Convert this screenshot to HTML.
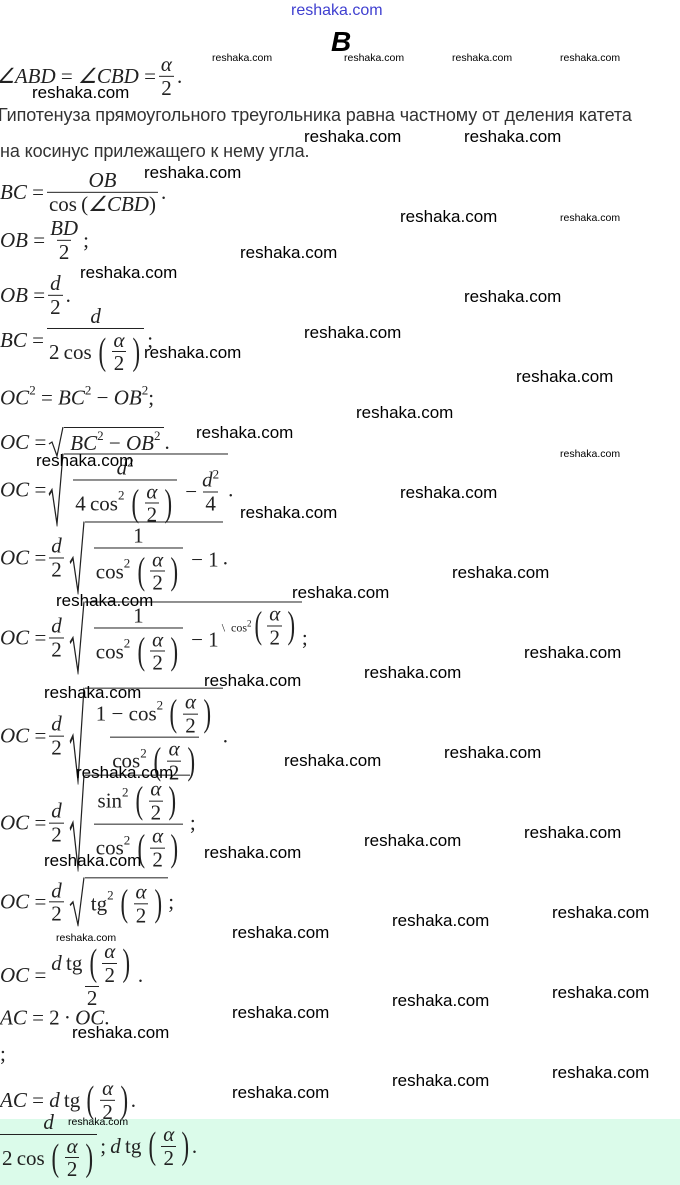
<!DOCTYPE html>
<html><head><meta charset="utf-8"><style>
html,body{margin:0;padding:0;background:#fff;}
body{width:680px;height:1185px;position:relative;overflow:hidden;font-family:"Liberation Serif",serif;color:#222;}
.band{position:absolute;left:0;top:1119px;width:680px;height:66px;background:#dbfbea;}
.m{position:absolute;left:0;white-space:nowrap;font-size:21px;display:flex;align-items:center;transform:translateY(-50%);}
.m i{font-style:italic;}
.f{display:inline-flex;flex-direction:column;align-items:center;vertical-align:middle;margin:0 3px;}
.f>span{display:block;padding:0 2px;line-height:1.08;}
.f>span+span{border-top:1px solid #222;}
.p{display:inline-flex;align-items:center;}
.p .b{font-size:38px;line-height:1;transform:scaleX(.6);display:inline-block;}
.sq{display:inline-flex;align-items:stretch;margin-left:2px;}
.sq svg{width:16px;display:block;}
.sq>.in{border-top:1px solid #222;display:flex;align-items:center;padding:2px 4px 0 6px;}
.w{position:absolute;font-family:"Liberation Sans",sans-serif;font-size:17px;color:#000;transform:translateY(-50%);white-space:nowrap;}
.ws{position:absolute;font-family:"Liberation Sans",sans-serif;font-size:10.5px;color:#000;transform:translateY(-50%);white-space:nowrap;}
.t{position:absolute;left:0;font-family:"Liberation Sans",sans-serif;font-size:18px;color:#333;white-space:nowrap;letter-spacing:-0.1px;}
sup{font-size:13px;position:relative;top:-8px;vertical-align:baseline;}
</style></head><body>
<div class="band"></div>
<div style="position:absolute;left:291px;top:2px;font-family:'Liberation Sans',sans-serif;font-size:16px;color:#4040d0;">reshaka.com</div>
<div style="position:absolute;left:331px;top:26px;font-family:'Liberation Sans',sans-serif;font-size:28px;font-weight:bold;font-style:italic;color:#000;">B</div>

<div class="m" style="top:76px;left:-4px"><i>∠ABD</i>&nbsp;=&nbsp;<i>∠CBD</i>&nbsp;=<span class="f"><span><i>α</i></span><span>2</span></span>.</div>
<div class="t" style="top:105px;left:-2px">Гипотенуза прямоугольного треугольника равна частному от деления катета</div>
<div class="t" style="top:141px">на косинус прилежащего к нему угла.</div>

<div class="m" style="top:192px"><i>BC</i>&nbsp;=<span class="f"><span><i>OB</i></span><span>cos&thinsp;(<i>∠CBD</i>)</span></span>.</div>
<div class="m" style="top:240px"><i>OB</i>&nbsp;=<span class="f"><span><i>BD</i></span><span>2</span></span>;</div>
<div class="m" style="top:295px"><i>OB</i>&nbsp;=<span class="f"><span><i>d</i></span><span>2</span></span>.</div>
<div class="m" style="top:340px"><i>BC</i>&nbsp;=<span class="f"><span><i>d</i></span><span style="display:flex;align-items:center">2&thinsp;cos&thinsp;<span class="p"><span class="b">(</span><span class="f"><span><i>α</i></span><span>2</span></span><span class="b">)</span></span></span></span>;</div>
<div class="m" style="top:398px"><i>OC</i><sup>2</sup>&nbsp;=&nbsp;<i>BC</i><sup>2</sup>&nbsp;−&nbsp;<i>OB</i><sup>2</sup>;</div>
<div class="m" style="top:442px"><i>OC</i>&nbsp;=<span class="sq"><svg viewBox="0 0 16 30" preserveAspectRatio="none"><polyline points="1,17 4,15 9,29 15,0" fill="none" stroke="#222" stroke-width="1.2"/></svg><span class="in"><i>BC</i><sup>2</sup>&nbsp;−&nbsp;<i>OB</i><sup>2</sup></span></span>.</div>

<div class="m" style="top:490px"><i>OC</i>&nbsp;=<span class="sq"><svg viewBox="0 0 16 30" preserveAspectRatio="none"><polyline points="1,17 4,15 9,29 15,0" fill="none" stroke="#222" stroke-width="1.2"/></svg><span class="in"><span class="f"><span><i>d</i><sup>2</sup></span><span style="display:flex;align-items:center">4&thinsp;cos<sup>2</sup>&thinsp;<span class="p"><span class="b">(</span><span class="f"><span><i>α</i></span><span>2</span></span><span class="b">)</span></span></span></span>&nbsp;−<span class="f"><span><i>d</i><sup>2</sup></span><span>4</span></span></span></span>.</div>

<div class="m" style="top:558px"><i>OC</i>&nbsp;=<span class="f"><span><i>d</i></span><span>2</span></span><span class="sq"><svg viewBox="0 0 16 30" preserveAspectRatio="none"><polyline points="1,17 4,15 9,29 15,0" fill="none" stroke="#222" stroke-width="1.2"/></svg><span class="in"><span class="f"><span>1</span><span style="display:flex;align-items:center">cos<sup>2</sup>&thinsp;<span class="p"><span class="b">(</span><span class="f"><span><i>α</i></span><span>2</span></span><span class="b">)</span></span></span></span>&nbsp;−&nbsp;1</span></span>.</div>

<div class="m" style="top:638px"><i>OC</i>&nbsp;=<span class="f"><span><i>d</i></span><span>2</span></span><span class="sq"><svg viewBox="0 0 16 30" preserveAspectRatio="none"><polyline points="1,17 4,15 9,29 15,0" fill="none" stroke="#222" stroke-width="1.2"/></svg><span class="in"><span class="f"><span>1</span><span style="display:flex;align-items:center">cos<sup>2</sup>&thinsp;<span class="p"><span class="b">(</span><span class="f"><span><i>α</i></span><span>2</span></span><span class="b">)</span></span></span></span>&nbsp;−&nbsp;1<span style="font-size:12px;position:relative;top:-12px">&nbsp;\ &nbsp;cos<sup style="font-size:9px;top:-5px">2</sup></span><span class="p" style="position:relative;top:-14px"><span class="b">(</span><span class="f"><span><i>α</i></span><span>2</span></span><span class="b">)</span></span></span></span>;</div>

<div class="m" style="top:736px"><i>OC</i>&nbsp;=<span class="f"><span><i>d</i></span><span>2</span></span><span class="sq"><svg viewBox="0 0 16 30" preserveAspectRatio="none"><polyline points="1,17 4,15 9,29 15,0" fill="none" stroke="#222" stroke-width="1.2"/></svg><span class="in"><span class="f"><span style="display:flex;align-items:center">1&nbsp;−&nbsp;cos<sup>2</sup>&thinsp;<span class="p"><span class="b">(</span><span class="f"><span><i>α</i></span><span>2</span></span><span class="b">)</span></span></span><span style="display:flex;align-items:center">cos<sup>2</sup>&thinsp;<span class="p"><span class="b">(</span><span class="f"><span><i>α</i></span><span>2</span></span><span class="b">)</span></span></span></span></span></span>.</div>

<div class="m" style="top:823px"><i>OC</i>&nbsp;=<span class="f"><span><i>d</i></span><span>2</span></span><span class="sq"><svg viewBox="0 0 16 30" preserveAspectRatio="none"><polyline points="1,17 4,15 9,29 15,0" fill="none" stroke="#222" stroke-width="1.2"/></svg><span class="in"><span class="f"><span style="display:flex;align-items:center">sin<sup>2</sup>&thinsp;<span class="p"><span class="b">(</span><span class="f"><span><i>α</i></span><span>2</span></span><span class="b">)</span></span></span><span style="display:flex;align-items:center">cos<sup>2</sup>&thinsp;<span class="p"><span class="b">(</span><span class="f"><span><i>α</i></span><span>2</span></span><span class="b">)</span></span></span></span></span></span>;</div>

<div class="m" style="top:902px"><i>OC</i>&nbsp;=<span class="f"><span><i>d</i></span><span>2</span></span><span class="sq"><svg viewBox="0 0 16 30" preserveAspectRatio="none"><polyline points="1,17 4,15 9,29 15,0" fill="none" stroke="#222" stroke-width="1.2"/></svg><span class="in">tg<sup>2</sup>&thinsp;<span class="p"><span class="b">(</span><span class="f"><span><i>α</i></span><span>2</span></span><span class="b">)</span></span></span></span>;</div>

<div class="m" style="top:975px"><i>OC</i>&nbsp;=<span class="f"><span style="display:flex;align-items:center"><i>d</i>&thinsp;tg&thinsp;<span class="p"><span class="b">(</span><span class="f"><span><i>α</i></span><span>2</span></span><span class="b">)</span></span></span><span>2</span></span>.</div>
<div class="m" style="top:1018px"><i>AC</i>&nbsp;=&nbsp;2&thinsp;·&thinsp;<i>OC</i>.</div>
<div class="m" style="top:1054px">;</div>
<div class="m" style="top:1100px"><i>AC</i>&nbsp;=&nbsp;<i>d</i>&thinsp;tg&thinsp;<span class="p"><span class="b">(</span><span class="f"><span><i>α</i></span><span>2</span></span><span class="b">)</span></span>.</div>
<div class="m" style="top:1146px"><span class="f" style="margin-left:0"><span><i>d</i></span><span style="display:flex;align-items:center">2&thinsp;cos&thinsp;<span class="p"><span class="b">(</span><span class="f"><span><i>α</i></span><span>2</span></span><span class="b">)</span></span></span></span>;&thinsp;<i>d</i>&thinsp;tg&thinsp;<span class="p"><span class="b">(</span><span class="f"><span><i>α</i></span><span>2</span></span><span class="b">)</span></span>.</div>

<div class="ws" style="left:212px;top:58px">reshaka.com</div>
<div class="ws" style="left:344px;top:58px">reshaka.com</div>
<div class="ws" style="left:452px;top:58px">reshaka.com</div>
<div class="ws" style="left:560px;top:58px">reshaka.com</div>
<div class="ws" style="left:560px;top:218px">reshaka.com</div>
<div class="ws" style="left:560px;top:454px">reshaka.com</div>
<div class="ws" style="left:56px;top:938px">reshaka.com</div>
<div class="ws" style="left:68px;top:1122px">reshaka.com</div>

<div class="w" style="left:32px;top:93px">reshaka.com</div>
<div class="w" style="left:304px;top:137px">reshaka.com</div>
<div class="w" style="left:464px;top:137px">reshaka.com</div>
<div class="w" style="left:144px;top:173px">reshaka.com</div>
<div class="w" style="left:400px;top:217px">reshaka.com</div>
<div class="w" style="left:240px;top:253px">reshaka.com</div>
<div class="w" style="left:80px;top:273px">reshaka.com</div>
<div class="w" style="left:464px;top:297px">reshaka.com</div>
<div class="w" style="left:304px;top:333px">reshaka.com</div>
<div class="w" style="left:144px;top:353px">reshaka.com</div>
<div class="w" style="left:516px;top:377px">reshaka.com</div>
<div class="w" style="left:356px;top:413px">reshaka.com</div>
<div class="w" style="left:196px;top:433px">reshaka.com</div>
<div class="w" style="left:36px;top:461px">reshaka.com</div>
<div class="w" style="left:400px;top:493px">reshaka.com</div>
<div class="w" style="left:240px;top:513px">reshaka.com</div>
<div class="w" style="left:452px;top:573px">reshaka.com</div>
<div class="w" style="left:292px;top:593px">reshaka.com</div>
<div class="w" style="left:56px;top:601px">reshaka.com</div>
<div class="w" style="left:524px;top:653px">reshaka.com</div>
<div class="w" style="left:364px;top:673px">reshaka.com</div>
<div class="w" style="left:204px;top:681px">reshaka.com</div>
<div class="w" style="left:44px;top:693px">reshaka.com</div>
<div class="w" style="left:444px;top:753px">reshaka.com</div>
<div class="w" style="left:284px;top:761px">reshaka.com</div>
<div class="w" style="left:76px;top:773px">reshaka.com</div>
<div class="w" style="left:524px;top:833px">reshaka.com</div>
<div class="w" style="left:364px;top:841px">reshaka.com</div>
<div class="w" style="left:204px;top:853px">reshaka.com</div>
<div class="w" style="left:44px;top:861px">reshaka.com</div>
<div class="w" style="left:552px;top:913px">reshaka.com</div>
<div class="w" style="left:392px;top:921px">reshaka.com</div>
<div class="w" style="left:232px;top:933px">reshaka.com</div>
<div class="w" style="left:552px;top:993px">reshaka.com</div>
<div class="w" style="left:392px;top:1001px">reshaka.com</div>
<div class="w" style="left:232px;top:1013px">reshaka.com</div>
<div class="w" style="left:72px;top:1033px">reshaka.com</div>
<div class="w" style="left:552px;top:1073px">reshaka.com</div>
<div class="w" style="left:392px;top:1081px">reshaka.com</div>
<div class="w" style="left:232px;top:1093px">reshaka.com</div>
</body></html>
